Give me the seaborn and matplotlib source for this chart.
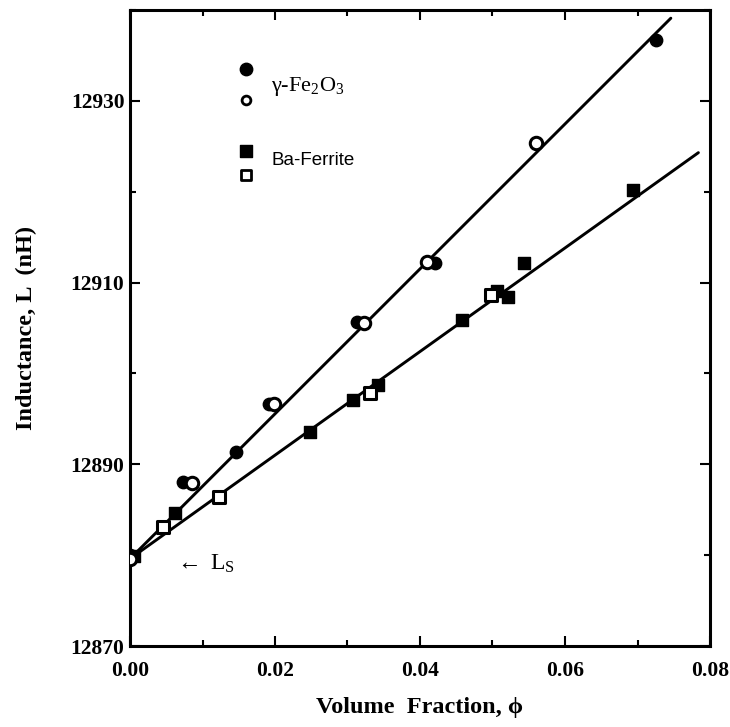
import numpy as np
import pandas as pd
import matplotlib
matplotlib.use("Agg")
import matplotlib.pyplot as plt
import seaborn as sns
from matplotlib.ticker import MultipleLocator

# gamma-Fe2O3, filled and open circles
fe_filled_x = [0.0, 0.0073, 0.0146, 0.0192, 0.0313, 0.0421, 0.0726]
fe_filled_y = [12880.0, 12888.0, 12891.3, 12896.6, 12905.7, 12912.2, 12936.7]
fe_open_x = [0.0, 0.0086, 0.0199, 0.0323, 0.0410, 0.0560]
fe_open_y = [12879.6, 12887.9, 12896.6, 12905.6, 12912.3, 12925.4]

# Ba-ferrite, filled and open squares
ba_filled_x = [0.0005, 0.0062, 0.0248, 0.0308, 0.0342, 0.0458, 0.0506, 0.0521, 0.0543, 0.0694]
ba_filled_y = [12879.9, 12884.6, 12893.6, 12897.1, 12898.7, 12905.9, 12909.1, 12908.4, 12912.1, 12920.2]
ba_open_x = [0.0046, 0.0123, 0.0331, 0.0498]
ba_open_y = [12883.1, 12886.4, 12897.9, 12908.6]

# fitted lines (end points)
fe_fit_x = [0.0, 0.0746]
fe_fit_y = [12879.6, 12939.1]
ba_fit_x = [0.0, 0.0784]
ba_fit_y = [12879.6, 12924.3]

x_ticks = [0.00, 0.02, 0.04, 0.06, 0.08]
y_ticks = [12870, 12890, 12910, 12930]

sns.set_style("ticks")
plt.rcParams["font.family"] = ["Liberation Serif", "DejaVu Serif"]
plt.rcParams["mathtext.fontset"] = "custom"
plt.rcParams["mathtext.rm"] = "Liberation Serif"
plt.rcParams["mathtext.it"] = "Liberation Serif:italic"
# plain black ink like the scanned original
for key in ["text.color", "axes.labelcolor", "xtick.color", "ytick.color",
            "axes.edgecolor"]:
    plt.rcParams[key] = "black"


def main():
    fig = plt.figure(figsize=(7.3, 7.27), dpi=100)
    ax = fig.add_axes([130 / 730, 1 - 646 / 727, 580 / 730, 636 / 727])

    sns.lineplot(x=fe_fit_x, y=fe_fit_y, ax=ax, color="black", lw=2.1)
    sns.lineplot(x=ba_fit_x, y=ba_fit_y, ax=ax, color="black", lw=2.1)

    ms = 80
    sns.scatterplot(x=fe_filled_x, y=fe_filled_y, ax=ax, marker="o", s=ms,
                    color="black", edgecolor="black", linewidth=1, zorder=3)
    sns.scatterplot(x=ba_filled_x, y=ba_filled_y, ax=ax, marker="s", s=ms,
                    color="black", edgecolor="black", linewidth=1, zorder=3)
    sns.scatterplot(x=fe_open_x, y=fe_open_y, ax=ax, marker="o", s=ms,
                    color="white", edgecolor="black", linewidth=2.2, zorder=4)
    sns.scatterplot(x=ba_open_x, y=ba_open_y, ax=ax, marker="s", s=ms,
                    color="white", edgecolor="black", linewidth=2.2, zorder=4)

    # hand-drawn legend
    ax.scatter([0.016], [12933.5], s=80, marker="o", color="black")
    ax.scatter([0.016], [12930.1], s=40, marker="o", facecolor="white",
               edgecolor="black", linewidth=2)
    ax.scatter([0.016], [12924.5], s=65, marker="s", color="black")
    ax.scatter([0.016], [12921.8], s=45, marker="s", facecolor="white",
               edgecolor="black", linewidth=2)
    ax.text(0.0195, 12931.6, r"$\mathregular{\gamma}$-Fe$_2$O$_3$", fontsize=16,
            va="center", ha="left")
    ax.text(0.0195, 12923.4, "Ba-Ferrite", fontsize=13.5, va="center", ha="left",
            family=["Liberation Sans", "DejaVu Sans"])
    ax.text(0.0061, 12879.0, r"$\leftarrow$ L$_\mathregular{S}$", fontsize=17,
            va="center", ha="left")

    ax.set_xlim(0, 0.08)
    ax.set_ylim(12870, 12940)
    ax.set_xticks(x_ticks)
    ax.set_xticklabels([f"{v:.2f}" for v in x_ticks])
    ax.set_yticks(y_ticks)
    ax.set_yticklabels([str(v) for v in y_ticks])
    ax.xaxis.set_minor_locator(MultipleLocator(0.01))
    ax.yaxis.set_minor_locator(MultipleLocator(10))
    ax.tick_params(which="both", direction="in", top=True, right=True,
                   width=1.5, labelsize=15.5)
    ax.tick_params(axis="x", pad=11)
    ax.tick_params(axis="y", pad=4)
    ax.tick_params(which="major", length=7)
    ax.tick_params(which="minor", length=4)
    for lab in ax.get_xticklabels() + ax.get_yticklabels():
        lab.set_fontweight("bold")
    for sp in ax.spines.values():
        sp.set_linewidth(2.2)
        sp.set_visible(True)

    ax.set_xlabel("Volume  Fraction, \u03d5", fontsize=17.5, fontweight="bold",
                  labelpad=11)
    ax.set_ylabel("Inductance, L  (nH)", fontsize=17.5, fontweight="bold",
                  labelpad=24)

    fig.savefig("out.png", dpi=100)


if __name__ == "__main__":
    main()
